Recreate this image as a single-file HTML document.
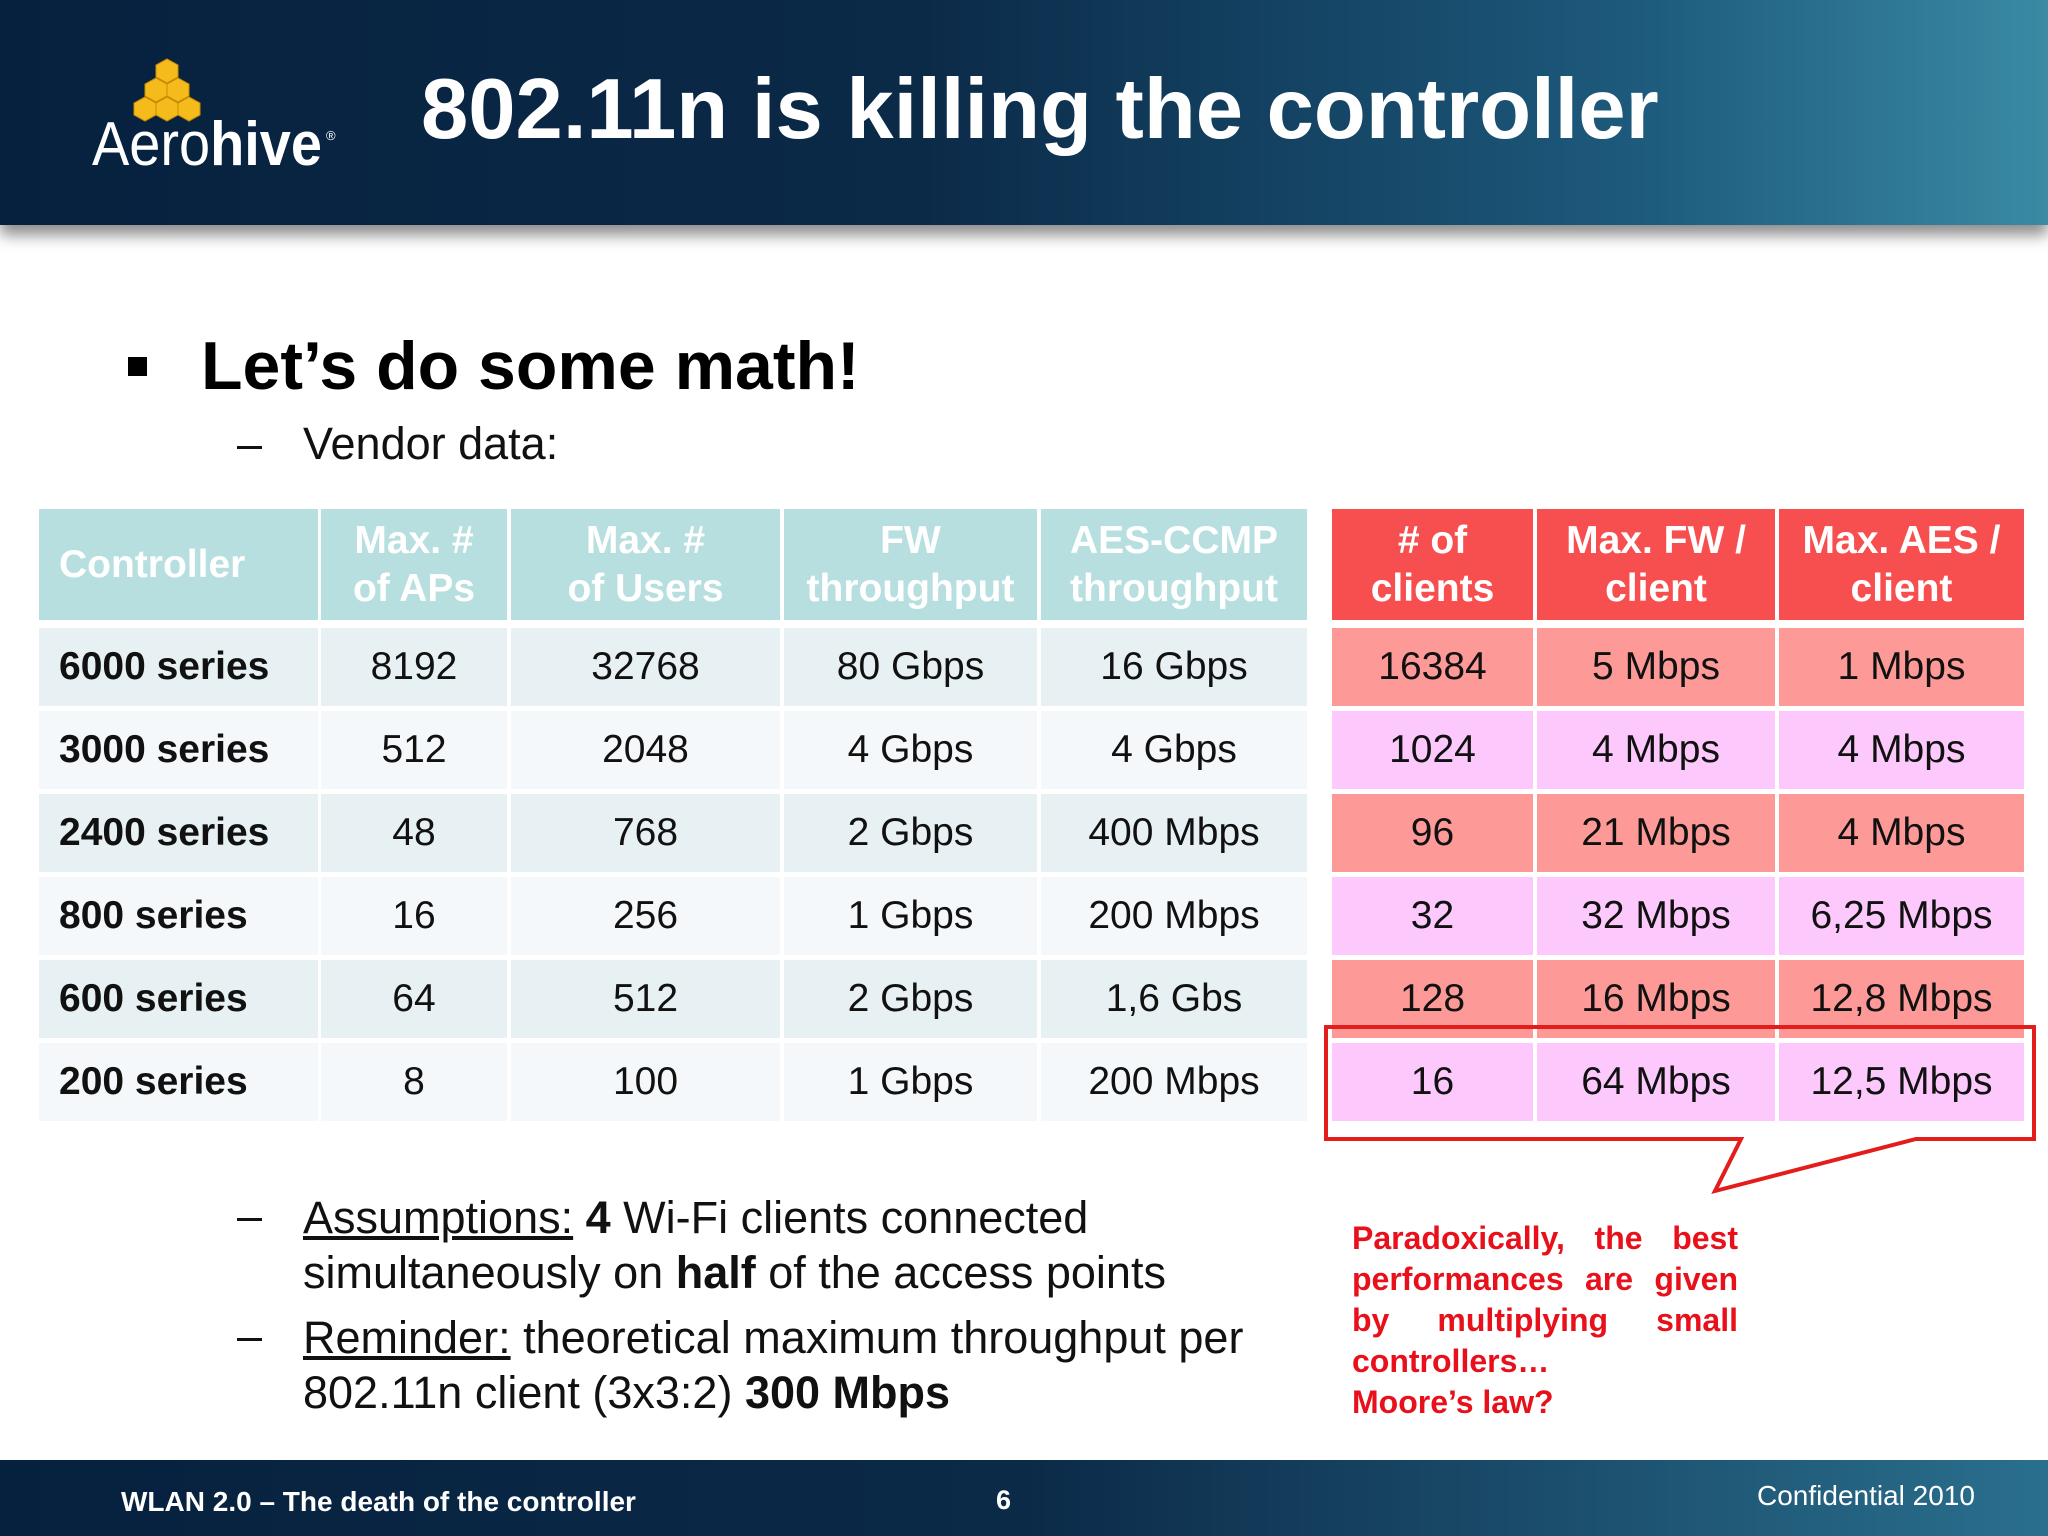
<!DOCTYPE html>
<html><head><meta charset="utf-8"><style>
body{margin:0;width:2048px;height:1536px;position:relative;overflow:hidden;background:#fff;font-family:"Liberation Sans",sans-serif}
.a{position:absolute}
.cell{position:absolute;display:flex;align-items:center;justify-content:center;text-align:center;font-size:39px;color:#111;line-height:1.2}
.hd{font-weight:bold;color:#fff;font-size:39px;line-height:48px}
.lb{justify-content:flex-start;padding-left:20px;box-sizing:border-box;font-weight:bold}
.ln{font-size:45px;color:#111;white-space:nowrap}
</style></head><body>
<div class="a" style="left:0;top:0;width:2048px;height:225px;background:linear-gradient(90deg,#06213e 0%,#0b2a48 45%,#1d5a7c 80%,#3a8aa4 100%);box-shadow:0 10px 14px rgba(0,0,0,0.45)"></div>
<svg class="a" style="left:0;top:0" width="420" height="225">
<g fill="#f5bb1c" stroke="#c98f00" stroke-width="1">
<polygon points="167,59 178,65 178,77 167,83 156,77 156,65"/>
<polygon points="156,78 167,84 167,96 156,102 145,96 145,84"/>
<polygon points="178,78 189,84 189,96 178,102 167,96 167,84"/>
<polygon points="145,97 156,103 156,115 145,121 134,115 134,103"/>
<polygon points="167,97 178,103 178,115 167,121 156,115 156,103"/>
<polygon points="189,97 200,103 200,115 189,121 178,115 178,103"/>
</g>
<text x="92" y="165" font-family="Liberation Sans" font-size="62" fill="#fff" textLength="230" lengthAdjust="spacingAndGlyphs">Aero<tspan font-weight="bold">hive</tspan></text>
<text x="326" y="140" font-family="Liberation Sans" font-size="13" fill="#fff">®</text>
</svg>
<div class="a" style="left:421px;top:61px;font-size:85px;font-weight:bold;color:#fff;white-space:nowrap">802.11n is killing the controller</div>
<div class="a" style="left:128px;top:357px;width:19px;height:19px;background:#000"></div>
<div class="a" style="left:201px;top:327px;font-size:68px;font-weight:bold;color:#000;white-space:nowrap">Let’s do some math!</div>
<div class="a ln" style="left:237px;top:418px">–</div>
<div class="a ln" style="left:303px;top:418px">Vendor data:</div>
<div id="tbl"></div>
<svg class="a" style="left:0;top:0;pointer-events:none" width="2048" height="1536">
<path d="M1741,1139 L1326,1139 L1326,1027 L2034,1027 L2034,1139 L1916,1139 L1715,1191 Z" fill="none" stroke="#e31c1c" stroke-width="4"/>
</svg>
<div class="a ln" style="left:237px;top:1190px">–</div>
<div class="a ln" style="left:303px;top:1190px;line-height:55px"><u>Assumptions:</u> <b>4</b> Wi-Fi clients connected<br>simultaneously on <b>half</b> of the access points</div>
<div class="a ln" style="left:237px;top:1310px">–</div>
<div class="a ln" style="left:303px;top:1310px;line-height:55px"><u>Reminder:</u> theoretical maximum throughput per<br>802.11n client (3x3:2) <b>300 Mbps</b></div>
<div class="a" style="left:1352px;top:1218px;width:386px;font-size:32px;font-weight:bold;color:#e8101a;line-height:41px;text-align:justify;text-align-last:justify">Paradoxically, the best performances are given by multiplying small</div>
<div class="a" style="left:1352px;top:1341px;font-size:32px;font-weight:bold;color:#e8101a;line-height:41px">controllers…<br>Moore’s law?</div>
<div class="a" style="left:0;top:1460px;width:2048px;height:76px;background:linear-gradient(90deg,#06213e 0%,#0b2a48 50%,#2a6f8e 100%)"></div>
<div class="a" style="left:121px;top:1486px;font-size:28px;font-weight:bold;color:#fff">WLAN 2.0 – The death of the controller</div>
<div class="a" style="left:996px;top:1485px;font-size:27px;font-weight:bold;color:#fff">6</div>
<div class="a" style="left:1757px;top:1480px;font-size:28px;color:#fff">Confidential 2010</div>
<script>
const leftCols=[[39,318],[321,507],[511,780],[784,1037],[1041,1307]];
const rightCols=[[1332,1533],[1537,1775],[1779,2024]];
const headers=["Controller","Max. #<br>of APs","Max. #<br>of Users","FW<br>throughput","AES-CCMP<br>throughput"];
const rheaders=["# of<br>clients","Max. FW /<br>client","Max. AES /<br>client"];
const rows=[
["6000 series","8192","32768","80 Gbps","16 Gbps","16384","5 Mbps","1 Mbps"],
["3000 series","512","2048","4 Gbps","4 Gbps","1024","4 Mbps","4 Mbps"],
["2400 series","48","768","2 Gbps","400 Mbps","96","21 Mbps","4 Mbps"],
["800 series","16","256","1 Gbps","200 Mbps","32","32 Mbps","6,25 Mbps"],
["600 series","64","512","2 Gbps","1,6 Gbs","128","16 Mbps","12,8 Mbps"],
["200 series","8","100","1 Gbps","200 Mbps","16","64 Mbps","12,5 Mbps"]];
const rowTops=[628,711,794,877,960,1043];
const T=document.getElementById('tbl');
function cell(x0,x1,y,h,bg,html,cls,name){
 const d=document.createElement('div');
 d.className='cell '+cls;
 d.style.cssText=`left:${x0}px;top:${y}px;width:${x1-x0}px;height:${h}px;background:${bg}`;
 d.innerHTML=html;
 
 
 T.appendChild(d);
}
headers.forEach((h,i)=>cell(leftCols[i][0],leftCols[i][1],509,111,'#b8dfe0',h,'hd'+(i==0?' lb':''),'left-header-cell'));
rheaders.forEach((h,i)=>cell(rightCols[i][0],rightCols[i][1],509,111,'#f74f4f',h,'hd','right-header-cell'));
rows.forEach((r,ri)=>{
 const y=rowTops[ri];
 leftCols.forEach((c,i)=>cell(c[0],c[1],y,78,ri%2?'#f4f8fa':'#e7f0f2',r[i],i==0?'lb':'',i==0?'row-label':'table-cell'));
 rightCols.forEach((c,i)=>cell(c[0],c[1],y,78,ri%2?'#fdc9fc':'#fd9a97',r[5+i],'','table-cell'));
});
</script>
</body></html>
